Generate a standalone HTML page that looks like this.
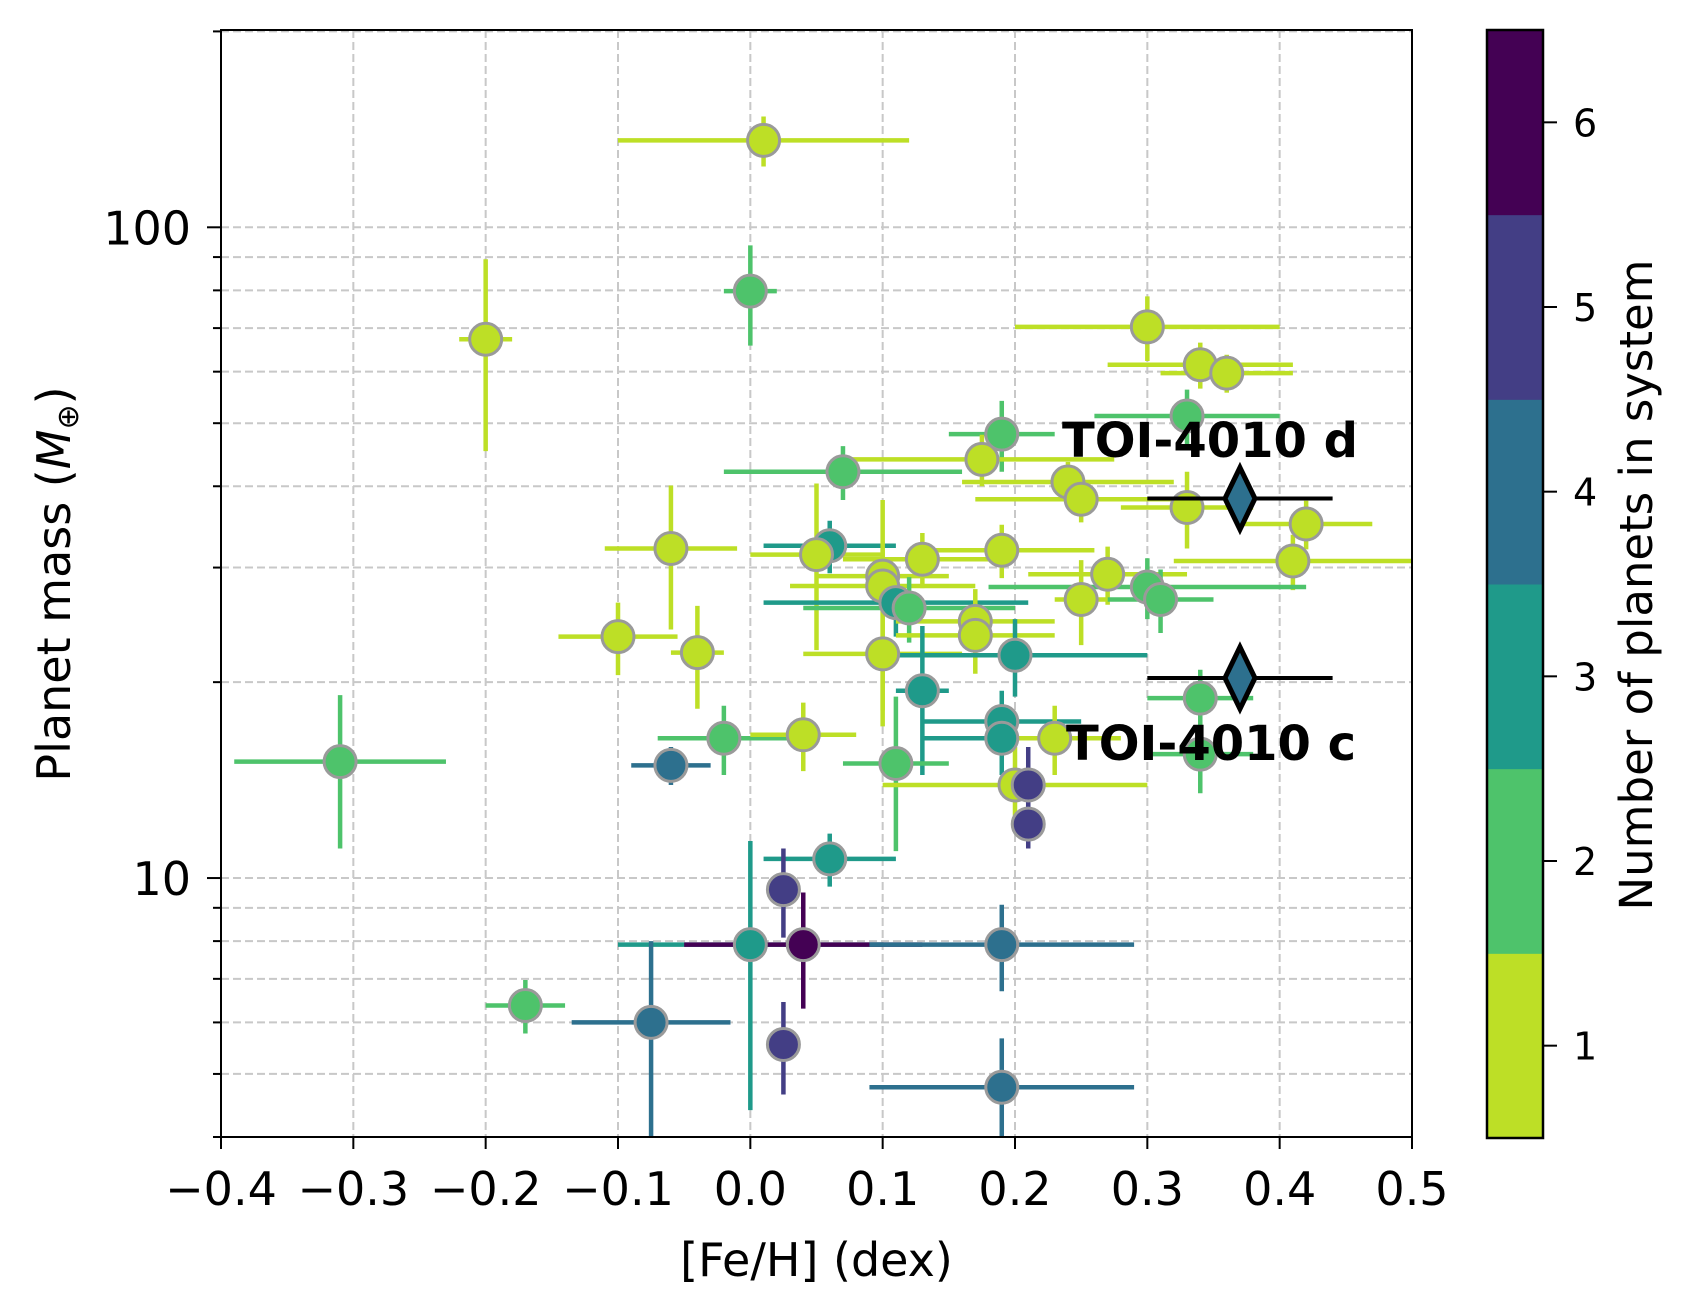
<!DOCTYPE html>
<html><head><meta charset="utf-8"><style>
body{margin:0;background:#fff}
svg{display:block;font-family:"DejaVu Sans","Liberation Sans",sans-serif}
</style></head><body>
<svg id="chart" width="1692" height="1310" viewBox="0 0 1692 1310">
<g id="grid"></g>
<g id="errs"></g>
<g id="pts"></g>
<g id="axes"></g>
<g id="cbar"></g>
</svg>
<script>
const feh   = [0.01,0.0,-0.2,0.3,0.34,0.36,0.33,0.19,0.07,0.175,0.24,0.25,0.33,0.42,-0.06,0.06,0.05,0.13,0.19,0.41,0.1,0.1,0.27,0.3,0.31,0.25,0.11,0.12,0.17,0.17,-0.1,-0.04,0.1,0.2,0.13,0.34,0.19,0.19,0.23,-0.02,0.04,0.34,-0.31,-0.06,0.11,0.2,0.21,0.21,0.06,0.025,0.0,0.04,0.19,-0.17,-0.075,0.025,0.19];
const fehErr= [0.11,0.02,0.02,0.1,0.07,0.05,0.07,0.04,0.09,0.1,0.08,0.08,0.05,0.05,0.05,0.05,0.05,0.06,0.07,0.09,0.05,0.07,0.06,0.12,0.04,0.02,0.1,0.08,0.06,0.06,0.045,0.02,0.06,0.1,0.02,0.04,0.06,0.06,0.05,0.05,0.04,0.04,0.08,0.03,0.04,0.1,0.01,0.01,0.05,0.01,0.1,0.09,0.1,0.03,0.06,0.01,0.1];
const mass  = [136,79.8,67.3,70.3,61.5,59.7,51.3,48.1,42.1,44.0,40.6,38.2,37.1,35.0,32.1,32.4,31.4,30.9,31.9,30.7,29.1,28.1,29.3,28.0,26.8,26.8,26.5,26.0,24.8,23.6,23.5,22.2,22.1,22.0,19.4,18.9,17.4,16.4,16.4,16.4,16.6,15.5,15.1,14.9,15.0,13.9,13.9,12.1,10.7,9.6,7.9,7.9,7.9,6.37,6.0,5.55,4.77];
const massErr=[12,14,22,8,5,4,5,6,4,4,3,3,5,3,8,3,9,3,3,3,3,10,3,3,3,4,3,3,3,3,3,4,5,3,5,2,2,2,2,2,2,2,4,1,4,2,2,1,1,1.5,3.5,1.6,1.2,0.6,2.0,0.9,0.9];
const nPlanets=[1,2,1,1,1,1,2,2,2,1,1,1,1,1,1,3,1,1,1,1,1,1,1,2,2,1,3,2,1,1,1,1,1,3,3,2,3,3,1,2,1,2,2,4,2,1,5,5,3,5,3,6,4,2,4,5,4];
const toiNames=["TOI-4010 d","TOI-4010 c"];
const toiFeh=[0.37,0.37];
const toiFehErr=[0.07,0.07];
const toiMass=[38.3,20.3];
const toiN=[4,4];
const xTicks=[-0.4,-0.3,-0.2,-0.1,0.0,0.1,0.2,0.3,0.4,0.5];
const xTickLabels=["\u22120.4","\u22120.3","\u22120.2","\u22120.1","0.0","0.1","0.2","0.3","0.4","0.5"];
const yMinor=[4,5,6,7,8,9,20,30,40,50,60,70,80,90,200];
const yMajor=[10,100];
const cbTicks=[1,2,3,4,5,6];

const colors={1:"#bddf26",2:"#4ec36b",3:"#1f9a8a",4:"#2d708e",5:"#433e85",6:"#440154"};
const L=221,R=1412,T=30,B=1137;
const xmin=-0.4,xmax=0.5,ymin=4.0,ymax=201;
const X=v=>L+(v-xmin)/(xmax-xmin)*(R-L);
const Y=v=>B-(Math.log10(v)-Math.log10(ymin))/(Math.log10(ymax)-Math.log10(ymin))*(B-T);
const NS="http://www.w3.org/2000/svg";
function mk(tag,attrs,parent,text){const e=document.createElementNS(NS,tag);for(const k in attrs)e.setAttribute(k,attrs[k]);if(text!==undefined)e.textContent=text;parent.appendChild(e);return e;}
const grid=document.getElementById('grid'),errs=document.getElementById('errs'),pts=document.getElementById('pts'),axes=document.getElementById('axes'),cbar=document.getElementById('cbar');

xTicks.forEach((t,i)=>{
  const g=mk('line',{x1:X(t),x2:X(t),y1:T,y2:B,stroke:"#c8c8c8","stroke-width":2,"stroke-dasharray":"8,4"},grid);
  
  
  const tk=mk('line',{x1:X(t),x2:X(t),y1:B,y2:B+12,stroke:"#000","stroke-width":2},axes);
  
  
  const lb=mk('text',{x:X(t),y:1205,"text-anchor":"middle","font-size":46},axes,xTickLabels[i]);
  
  
});
yMinor.concat(yMajor).forEach(t=>{
  const g=mk('line',{x1:L,x2:R,y1:Y(t),y2:Y(t),stroke:"#c8c8c8","stroke-width":2,"stroke-dasharray":"8,4"},grid);
  
  
  const major=yMajor.includes(t);
  const tk=mk('line',{x1:L-(major?14:8),x2:L,y1:Y(t),y2:Y(t),stroke:"#000","stroke-width":2},axes);
  
  
  if(major){const lb=mk('text',{x:L-30,y:Y(t)+17,"text-anchor":"end","font-size":46},axes,String(t));
  
  }
});

feh.forEach((x,i)=>{
  const c=colors[nPlanets[i]];
  const h=mk('line',{x1:X(x-fehErr[i]),x2:X(x+fehErr[i]),y1:Y(mass[i]),y2:Y(mass[i]),stroke:c,"stroke-width":4.5},errs);
  
  
  const v=mk('line',{x1:X(x),x2:X(x),y1:Y(Math.max(mass[i]-massErr[i],ymin)),y2:Y(mass[i]+massErr[i]),stroke:c,"stroke-width":4.5},errs);
  
  
});
feh.forEach((x,i)=>{
  const p=mk('circle',{cx:X(x),cy:Y(mass[i]),r:16,fill:colors[nPlanets[i]],stroke:"#9a9a9a","stroke-width":3},pts);
  
  
});
toiFeh.forEach((x,i)=>{
  const cx=X(x),cy=Y(toiMass[i]);
  const h=mk('line',{x1:X(x-toiFehErr[i]),x2:X(x+toiFehErr[i]),y1:cy,y2:cy,stroke:"#000","stroke-width":4},pts);
  
  
  const d=mk('polygon',{points:`${cx},${cy-31} ${cx+15},${cy} ${cx},${cy+31} ${cx-15},${cy}`,fill:colors[toiN[i]],stroke:"#000","stroke-width":5},pts);
  
  
});
const ad=mk('text',{x:1062,y:457,"font-size":48,"font-weight":"bold"},pts,toiNames[0]);


const ac=mk('text',{x:1066,y:760,"font-size":48,"font-weight":"bold"},pts,toiNames[1]);



const fr=mk('rect',{x:L,y:T,width:R-L,height:B-T,fill:"none",stroke:"#000","stroke-width":2},axes);


const xl=mk('text',{x:(L+R)/2,y:1276,"text-anchor":"middle","font-size":46},axes,"[Fe/H] (dex)");


const yl=mk('text',{x:0,y:0,"text-anchor":"middle","font-size":46,transform:"translate(70,584) rotate(-90)"},axes);


yl.innerHTML='Planet mass (<tspan font-style="italic">M</tspan><tspan font-size="30" dy="8">⊕</tspan><tspan dy="-8">)</tspan>';

const CL=1487,CR=1543,CT=30,CB=1138,cs=(CB-CT)/6;
cbTicks.forEach(n=>{
  const y0=CB-n*cs;
  const r=mk('rect',{x:CL,y:y0,width:CR-CL,height:cs+0.5,fill:colors[n]},cbar);
  
  
  const tk=mk('line',{x1:CR,x2:CR+14,y1:y0+cs/2,y2:y0+cs/2,stroke:"#000","stroke-width":2},cbar);
  
  
  const lb=mk('text',{x:1573,y:y0+cs/2+14,"font-size":38},cbar,String(n));
  
  
});
const cf=mk('rect',{x:CL,y:CT,width:CR-CL,height:CB-CT,fill:"none",stroke:"#000","stroke-width":2.5},cbar);


const cl=mk('text',{x:0,y:0,"text-anchor":"middle","font-size":45,transform:"translate(1652,585) rotate(-90)"},cbar,"Number of planets in system");


</script>
</body></html>
